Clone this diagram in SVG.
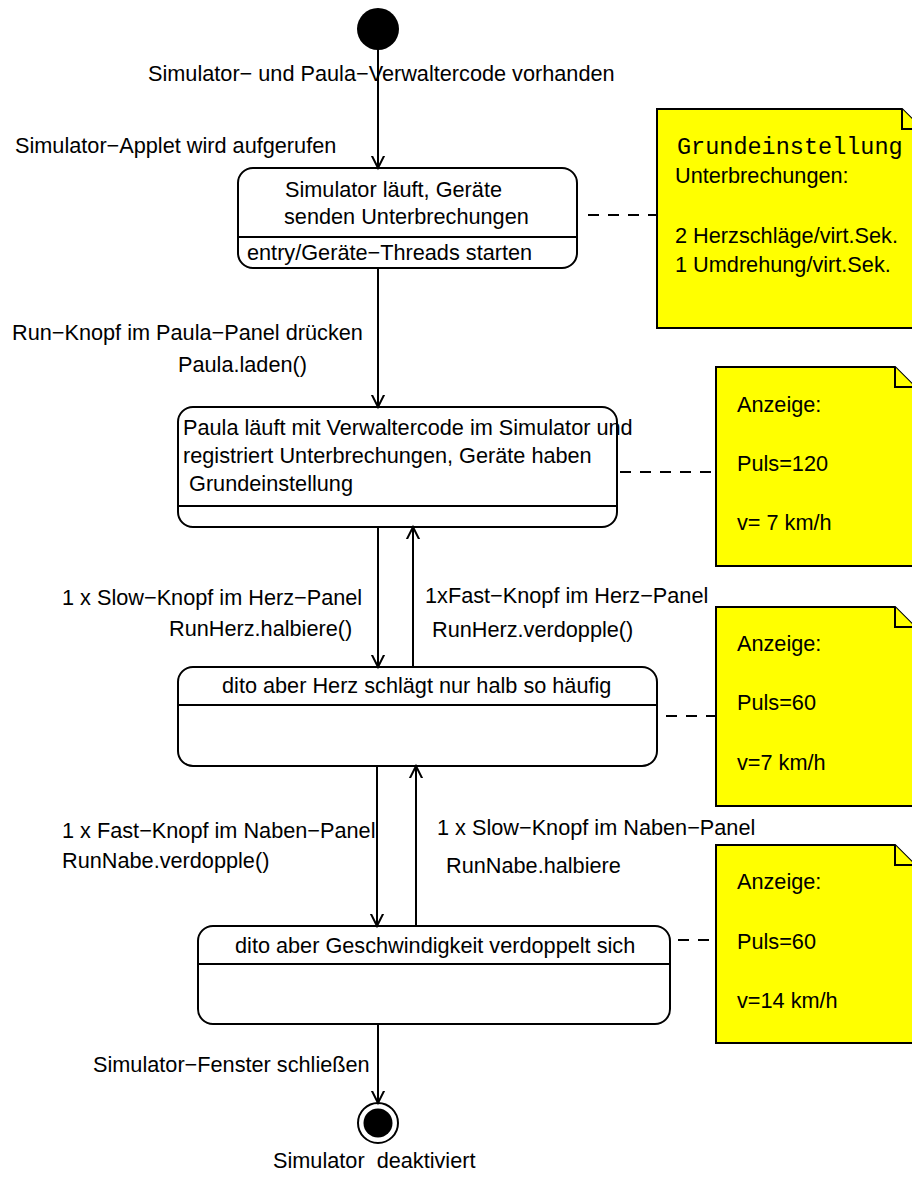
<svg xmlns="http://www.w3.org/2000/svg" width="912" height="1181" viewBox="0 0 912 1181">
  <style>
    text { font-family: "Liberation Sans", Arial, sans-serif; font-size: 21.7px; fill: #000; white-space: pre; }
    .mono { font-family: "Liberation Mono", "Courier New", monospace; font-size: 23.5px; }
    .state { fill: #fff; stroke: #000; stroke-width: 2; }
    .div { stroke: #000; stroke-width: 2; }
    .note { fill: #ffff00; stroke: #000; stroke-width: 2; stroke-linejoin: miter; }
    .flow { stroke: #000; stroke-width: 2; fill: none; marker-end: url(#open); }
    .anchor { stroke: #000; stroke-width: 2; stroke-dasharray: 11 9; fill: none; }
  </style>
  <defs>
    <marker id="open" markerUnits="userSpaceOnUse" viewBox="-12 -12 24 24" refX="0" refY="0" markerWidth="24" markerHeight="24" orient="auto">
      <path d="M -20 -10 L 0 0 L -20 10" fill="none" stroke="#000" stroke-width="2"/>
    </marker>
  </defs>
  <rect width="912" height="1181" fill="#fff"/>

  <!-- start / end pseudo-states -->
  <g id="initial">
    <circle cx="378" cy="29" r="21" fill="#000"/>
    <text x="148" y="81">Simulator− und Paula−Verwaltercode vorhanden</text>
  </g>
  <g id="final">
    <circle cx="378" cy="1123" r="20" fill="#fff" stroke="#000" stroke-width="2"/>
    <circle cx="378" cy="1123" r="14.5" fill="#000"/>
    <text x="273" y="1168">Simulator  deaktiviert</text>
  </g>

  <!-- states -->
  <g id="s-running">
    <rect class="state" x="238" y="168" width="339" height="100" rx="15"/>
    <line class="div" x1="238" y1="237" x2="577" y2="237"/>
    <text x="285" y="197">Simulator läuft, Geräte</text>
    <text x="284" y="224">senden Unterbrechungen</text>
    <text x="247" y="260">entry/Geräte−Threads starten</text>
  </g>
  <g id="s-paula">
    <rect class="state" x="178" y="407" width="439" height="120" rx="15"/>
    <line class="div" x1="178" y1="506" x2="617" y2="506"/>
    <text x="183" y="435">Paula läuft mit Verwaltercode im Simulator und</text>
    <text x="183" y="463">registriert Unterbrechungen, Geräte haben</text>
    <text x="183" y="491"> Grundeinstellung</text>
  </g>
  <g id="s-herz">
    <rect class="state" x="178" y="667" width="479" height="99" rx="15"/>
    <line class="div" x1="178" y1="705" x2="657" y2="705"/>
    <text x="222" y="693">dito aber Herz schlägt nur halb so häufig</text>
  </g>
  <g id="s-nabe">
    <rect class="state" x="198" y="926" width="472" height="98" rx="15"/>
    <line class="div" x1="198" y1="964" x2="670" y2="964"/>
    <text x="235" y="953">dito aber Geschwindigkeit verdoppelt sich</text>
  </g>

  <!-- notes -->
  <g id="note-grund">
    <path class="note" d="M657 109 H902 L922 129 V328 H657 Z"/>
    <path class="note" d="M902 109 V129 H922"/>
    <text class="mono" x="677" y="154">Grundeinstellung</text>
    <text x="675" y="183">Unterbrechungen:</text>
    <text x="675" y="243">2 Herzschläge/virt.Sek.</text>
    <text x="675" y="272">1 Umdrehung/virt.Sek.</text>
  </g>
  <g id="note-a1">
    <path class="note" d="M716 367 H895 L915 387 V566 H716 Z"/>
    <path class="note" d="M895 367 V387 H915"/>
    <text x="737" y="412">Anzeige:</text>
    <text x="737" y="471">Puls=120</text>
    <text x="737" y="530">v= 7 km/h</text>
  </g>
  <g id="note-a2">
    <path class="note" d="M716 607 H895 L915 627 V806 H716 Z"/>
    <path class="note" d="M895 607 V627 H915"/>
    <text x="737" y="651">Anzeige:</text>
    <text x="737" y="710">Puls=60</text>
    <text x="737" y="770">v=7 km/h</text>
  </g>
  <g id="note-a3">
    <path class="note" d="M716 845 H895 L915 865 V1043 H716 Z"/>
    <path class="note" d="M895 845 V865 H915"/>
    <text x="737" y="889">Anzeige:</text>
    <text x="737" y="949">Puls=60</text>
    <text x="737" y="1008">v=14 km/h</text>
  </g>

  <!-- transitions and note anchors -->
  <g id="connectors">
    <line class="flow" x1="378" y1="50" x2="378" y2="168"/>
    <line class="flow" x1="378" y1="268" x2="378" y2="407"/>
    <line class="flow" x1="378" y1="527" x2="378" y2="667"/>
    <line class="flow" x1="413" y1="667" x2="413" y2="527"/>
    <line class="flow" x1="377" y1="766" x2="377" y2="926"/>
    <line class="flow" x1="416" y1="926" x2="416" y2="766"/>
    <line class="flow" x1="378" y1="1024" x2="378" y2="1103"/>

    <line class="anchor" x1="588" y1="215" x2="657" y2="215"/>
    <line class="anchor" x1="620" y1="472" x2="716" y2="472"/>
    <line class="anchor" x1="666" y1="716" x2="716" y2="716"/>
    <line class="anchor" x1="678" y1="940" x2="716" y2="940"/>
  </g>

  <!-- transition labels -->
  <g id="labels">
    <text x="15" y="153">Simulator−Applet wird aufgerufen</text>
    <text x="12" y="340">Run−Knopf im Paula−Panel drücken</text>
    <text x="178" y="372">Paula.laden()</text>
    <text x="62" y="605">1 x Slow−Knopf im Herz−Panel</text>
    <text x="169" y="636">RunHerz.halbiere()</text>
    <text x="425" y="603">1xFast−Knopf im Herz−Panel</text>
    <text x="432" y="637">RunHerz.verdopple()</text>
    <text x="62" y="838">1 x Fast−Knopf im Naben−Panel</text>
    <text x="62" y="868">RunNabe.verdopple()</text>
    <text x="437" y="835">1 x Slow−Knopf im Naben−Panel</text>
    <text x="446" y="873">RunNabe.halbiere</text>
    <text x="93" y="1072">Simulator−Fenster schließen</text>
  </g>
</svg>
